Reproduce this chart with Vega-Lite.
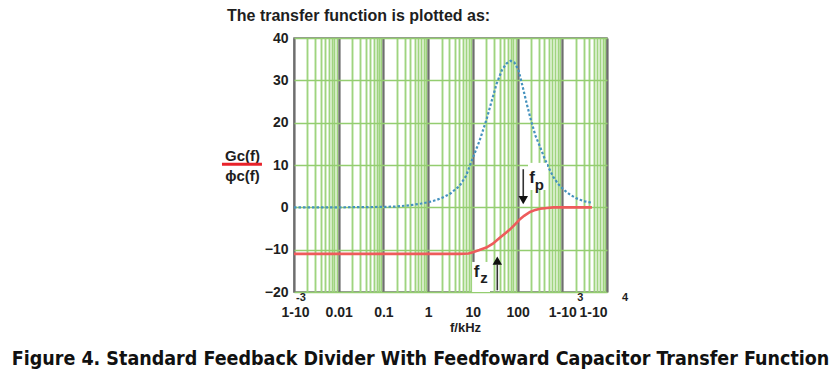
{
  "$schema": "https://vega.github.io/schema/vega-lite/v6.json",
  "width": 313,
  "height": 254,
  "autosize": {"type": "none"},
  "padding": {"left": 294, "top": 38, "right": 223, "bottom": 85},
  "background": "white",
  "config": {"view": {"stroke": "#707070", "strokeWidth": 1.5}, "font": "Liberation Sans"},
  "title": {
    "text": "The transfer function is plotted as:",
    "anchor": "start",
    "frame": "group",
    "dx": -67,
    "dy": 7,
    "offset": 1,
    "baseline": "alphabetic",
    "font": "Liberation Sans",
    "fontSize": 16,
    "fontWeight": "bold",
    "color": "#1e1e1e"
  },
  "datasets": {
    "curves": [
      {"f": 0.001, "db": 0, "series": "A"},
      {"f": 0.003, "db": 0, "series": "A"},
      {"f": 0.01, "db": 0, "series": "A"},
      {"f": 0.03, "db": 0.05, "series": "A"},
      {"f": 0.1, "db": 0.1, "series": "A"},
      {"f": 0.2, "db": 0.2, "series": "A"},
      {"f": 0.4, "db": 0.5, "series": "A"},
      {"f": 0.7, "db": 0.9, "series": "A"},
      {"f": 1, "db": 1.2, "series": "A"},
      {"f": 1.5, "db": 1.7, "series": "A"},
      {"f": 2, "db": 2.2, "series": "A"},
      {"f": 3, "db": 3.1, "series": "A"},
      {"f": 5, "db": 5.0, "series": "A"},
      {"f": 7, "db": 7.4, "series": "A"},
      {"f": 10, "db": 11.7, "series": "A"},
      {"f": 14, "db": 15.6, "series": "A"},
      {"f": 20, "db": 20.6, "series": "A"},
      {"f": 27, "db": 25.5, "series": "A"},
      {"f": 34, "db": 29.2, "series": "A"},
      {"f": 45, "db": 32.5, "series": "A"},
      {"f": 57, "db": 34.0, "series": "A"},
      {"f": 70, "db": 34.6, "series": "A"},
      {"f": 85, "db": 34.2, "series": "A"},
      {"f": 105, "db": 32.4, "series": "A"},
      {"f": 130, "db": 28.5, "series": "A"},
      {"f": 160, "db": 24.5, "series": "A"},
      {"f": 200, "db": 20.5, "series": "A"},
      {"f": 250, "db": 17.0, "series": "A"},
      {"f": 318, "db": 14.3, "series": "A"},
      {"f": 400, "db": 11.6, "series": "A"},
      {"f": 500, "db": 9.3, "series": "A"},
      {"f": 630, "db": 7.2, "series": "A"},
      {"f": 800, "db": 5.6, "series": "A"},
      {"f": 1000, "db": 4.5, "series": "A"},
      {"f": 1250, "db": 3.6, "series": "A"},
      {"f": 1600, "db": 2.8, "series": "A"},
      {"f": 2000, "db": 2.2, "series": "A"},
      {"f": 2500, "db": 1.8, "series": "A"},
      {"f": 3200, "db": 1.4, "series": "A"},
      {"f": 4600, "db": 1.1, "series": "A"},
      {"f": 0.001, "db": -11, "series": "B"},
      {"f": 0.1, "db": -11, "series": "B"},
      {"f": 1, "db": -11, "series": "B"},
      {"f": 5, "db": -11, "series": "B"},
      {"f": 8, "db": -10.9, "series": "B"},
      {"f": 10, "db": -10.6, "series": "B"},
      {"f": 14, "db": -10.1, "series": "B"},
      {"f": 20, "db": -9.5, "series": "B"},
      {"f": 28, "db": -8.6, "series": "B"},
      {"f": 40, "db": -7.2, "series": "B"},
      {"f": 55, "db": -6.0, "series": "B"},
      {"f": 68, "db": -5.2, "series": "B"},
      {"f": 90, "db": -3.9, "series": "B"},
      {"f": 113, "db": -2.8, "series": "B"},
      {"f": 140, "db": -2.0, "series": "B"},
      {"f": 160, "db": -1.6, "series": "B"},
      {"f": 190, "db": -1.1, "series": "B"},
      {"f": 250, "db": -0.6, "series": "B"},
      {"f": 318, "db": -0.35, "series": "B"},
      {"f": 450, "db": -0.15, "series": "B"},
      {"f": 630, "db": 0, "series": "B"},
      {"f": 1000, "db": 0, "series": "B"},
      {"f": 4600, "db": 0, "series": "B"}
    ],
    "boxes": [
      {"f1": 171, "f2": 455, "y1": 10.5, "y2": 4.1},
      {"f1": 9.6, "f2": 24.2, "y1": -12.9, "y2": -20}
    ],
    "arrows": [
      {"f": 134, "y1": 9.0, "y2": 2.5, "head": 1.7, "dir": "down"},
      {"f": 35.2, "y1": -13.5, "y2": -19.6, "head": -12.6, "dir": "up"}
    ],
    "letters": [
      {"f": 210, "db": 7.0, "text": "f", "role": "main"},
      {"f": 305, "db": 5.2, "text": "p", "role": "sub"},
      {"f": 12.1, "db": -15.2, "text": "f", "role": "main"},
      {"f": 17.7, "db": -16.8, "text": "z", "role": "sub"}
    ],
    "fraction": [
      {"f1": 0.0000245, "f2": 0.000192, "db": 10.2}
    ],
    "sups": [
      {"f": 0.001, "db": -21.4, "text": "-3"},
      {"f": 1000, "db": -21.4, "text": "3"},
      {"f": 10000, "db": -21.4, "text": "4"}
    ]
  },
  "resolve": {"axis": {"x": "independent"}},
  "layer": [
    {
      "data": {"name": "curves"},
      "transform": [{"filter": "datum.series === 'A'"}],
      "mark": {"type": "line", "color": "#4592be", "strokeWidth": 2.2, "strokeDash": [2.5, 2]},
      "encoding": {
        "x": {
          "field": "f", "type": "quantitative",
          "scale": {"type": "log", "domain": [0.001, 10000]},
          "axis": {
            "orient": "bottom",
            "values": [0.001,0.002,0.003,0.004,0.005,0.006,0.007,0.008,0.009,
                       0.01,0.02,0.03,0.04,0.05,0.06,0.07,0.08,0.09,
                       0.1,0.2,0.3,0.4,0.5,0.6,0.7,0.8,0.9,
                       1,2,3,4,5,6,7,8,9,
                       10,20,30,40,50,60,70,80,90,
                       100,200,300,400,500,600,700,800,900,
                       1000,2000,3000,4000,5000,6000,7000,8000,9000,10000],
            "labelExpr": "abs(log(datum.value)/LN10 - round(log(datum.value)/LN10)) > 0.01 ? '' : (datum.value < 0.002 || datum.value > 500) ? '1-10' : format(datum.value, '~g')",
            "labelOverlap": false,
            "labelFont": "Liberation Sans",
            "labelFontSize": 14,
            "labelFontWeight": "bold",
            "labelColor": "#1e1e1e",
            "labelPadding": 13,
            "labelOffset": {"condition": {"test": "datum.value < 0.002", "value": -13}, "value": 0},
            "ticks": false,
            "domain": false,
            "grid": true,
            "gridColor": {"condition": {"test": "abs(log(datum.value)/LN10 - round(log(datum.value)/LN10)) < 0.01", "value": "#6e6e6e"}, "value": "#9fd47f"},
            "gridWidth": {"condition": {"test": "abs(log(datum.value)/LN10 - round(log(datum.value)/LN10)) < 0.01", "value": 2.2}, "value": 1.9},
            "title": "f/kHz",
            "titleFont": "Liberation Sans",
            "titleFontSize": 13,
            "titleFontWeight": "bold",
            "titleColor": "#1e1e1e",
            "titleX": 171,
            "titleY": 35,
            "titleAlign": "center",
            "titleBaseline": "middle"
          }
        },
        "y": {
          "field": "db", "type": "quantitative",
          "scale": {"domain": [-20, 40]},
          "axis": {
            "values": [-20, -10, 0, 10, 20, 30, 40],
            "labelFont": "Liberation Sans",
            "labelFontSize": 14,
            "labelFontWeight": "bold",
            "labelColor": "#1e1e1e",
            "labelPadding": 6,
            "ticks": false,
            "domain": false,
            "grid": true,
            "gridColor": "#94cd70",
            "gridWidth": 1.6,
            "title": ["Gc(f)", "ϕc(f)"],
            "titleAngle": 0,
            "titleX": -52,
            "titleY": 122,
            "titleAlign": "center",
            "titleBaseline": "alphabetic",
            "titleLineHeight": 20,
            "titleFont": "Liberation Sans",
            "titleFontSize": 15,
            "titleFontWeight": "bold",
            "titleColor": "#1e1e1e"
          }
        }
      }
    },
    {
      "data": {"name": "curves"},
      "transform": [{"filter": "datum.series === 'B'"}],
      "mark": {"type": "line", "color": "#ee5b5b", "strokeWidth": 2.6},
      "encoding": {
        "x": {"field": "f", "type": "quantitative", "scale": {"type": "log", "domain": [0.001, 10000]}, "axis": null},
        "y": {"field": "db", "type": "quantitative", "scale": {"domain": [-20, 40]}}
      }
    },
    {
      "data": {"name": "boxes"},
      "mark": {"type": "rect", "fill": "white"},
      "encoding": {
        "x": {
          "field": "f1", "type": "quantitative",
          "scale": {"type": "log", "domain": [0.001, 10000]},
          "axis": {
            "orient": "bottom",
            "labels": false, "ticks": false, "domain": false, "grid": false,
            "title": "Figure 4. Standard Feedback Divider With Feedfoward Capacitor Transfer Function",
            "titleFont": "DejaVu Sans Condensed, Liberation Sans",
            "titleFontSize": 19.5,
            "titleFontWeight": "bold",
            "titleColor": "#111111",
            "titleX": 126,
            "titleY": 72,
            "titleAlign": "center",
            "titleBaseline": "alphabetic"
          }
        },
        "x2": {"field": "f2"},
        "y": {"field": "y1", "type": "quantitative", "scale": {"domain": [-20, 40]}},
        "y2": {"field": "y2"}
      }
    },
    {
      "data": {"name": "arrows"},
      "mark": {"type": "rule", "color": "#333333", "strokeWidth": 1.6},
      "encoding": {
        "x": {"field": "f", "type": "quantitative", "scale": {"type": "log", "domain": [0.001, 10000]}, "axis": null},
        "y": {"field": "y1", "type": "quantitative", "scale": {"domain": [-20, 40]}},
        "y2": {"field": "y2"}
      }
    },
    {
      "data": {"name": "arrows"},
      "mark": {"type": "point", "filled": true, "color": "#111111", "size": 90, "opacity": 1},
      "encoding": {
        "x": {"field": "f", "type": "quantitative", "scale": {"type": "log", "domain": [0.001, 10000]}, "axis": null},
        "y": {"field": "head", "type": "quantitative", "scale": {"domain": [-20, 40]}},
        "shape": {"field": "dir", "type": "nominal", "scale": {"domain": ["down", "up"], "range": ["triangle-down", "triangle-up"]}, "legend": null}
      }
    },
    {
      "data": {"name": "letters"},
      "transform": [{"filter": "datum.role === 'main'"}],
      "mark": {"type": "text", "font": "Liberation Sans", "fontSize": 17, "fontWeight": "bold", "color": "#1e1e1e", "baseline": "middle", "align": "center"},
      "encoding": {
        "x": {"field": "f", "type": "quantitative", "scale": {"type": "log", "domain": [0.001, 10000]}, "axis": null},
        "y": {"field": "db", "type": "quantitative", "scale": {"domain": [-20, 40]}},
        "text": {"field": "text"}
      }
    },
    {
      "data": {"name": "letters"},
      "transform": [{"filter": "datum.role === 'sub'"}],
      "mark": {"type": "text", "font": "Liberation Sans", "fontSize": 15, "fontWeight": "bold", "color": "#1e1e1e", "baseline": "middle", "align": "center"},
      "encoding": {
        "x": {"field": "f", "type": "quantitative", "scale": {"type": "log", "domain": [0.001, 10000]}, "axis": null},
        "y": {"field": "db", "type": "quantitative", "scale": {"domain": [-20, 40]}},
        "text": {"field": "text"}
      }
    },
    {
      "data": {"name": "fraction"},
      "mark": {"type": "rule", "color": "#e8222a", "strokeWidth": 3, "clip": false},
      "encoding": {
        "x": {"field": "f1", "type": "quantitative", "scale": {"type": "log", "domain": [0.001, 10000]}, "axis": null},
        "x2": {"field": "f2"},
        "y": {"field": "db", "type": "quantitative", "scale": {"domain": [-20, 40]}}
      }
    },
    {
      "data": {"name": "sups"},
      "transform": [{"filter": "datum.f < 0.002"}],
      "mark": {"type": "text", "font": "Liberation Sans", "fontSize": 11, "fontWeight": "bold", "color": "#1e1e1e", "baseline": "middle", "align": "left", "dx": 2},
      "encoding": {
        "x": {"field": "f", "type": "quantitative", "scale": {"type": "log", "domain": [0.001, 10000]}, "axis": null},
        "y": {"field": "db", "type": "quantitative", "scale": {"domain": [-20, 40]}},
        "text": {"field": "text"}
      }
    },
    {
      "data": {"name": "sups"},
      "transform": [{"filter": "datum.f > 0.002"}],
      "mark": {"type": "text", "font": "Liberation Sans", "fontSize": 11, "fontWeight": "bold", "color": "#1e1e1e", "baseline": "middle", "align": "left", "dx": 15},
      "encoding": {
        "x": {"field": "f", "type": "quantitative", "scale": {"type": "log", "domain": [0.001, 10000]}, "axis": null},
        "y": {"field": "db", "type": "quantitative", "scale": {"domain": [-20, 40]}},
        "text": {"field": "text"}
      }
    }
  ]
}
